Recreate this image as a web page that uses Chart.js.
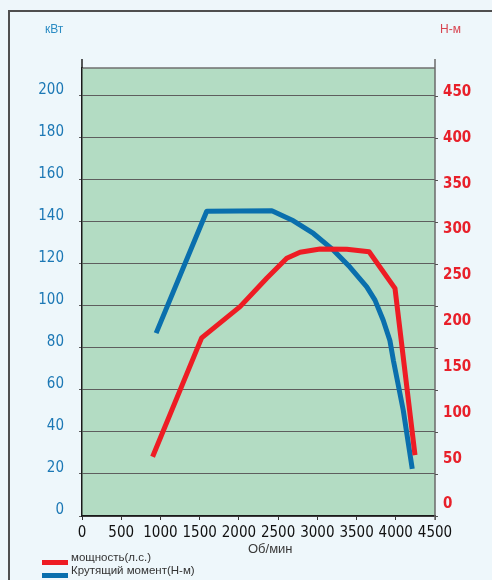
<!DOCTYPE html>
<html>
<head>
<meta charset="utf-8">
<script src="https://cdn.jsdelivr.net/npm/chart.js@4/dist/chart.umd.min.js"></script>
<style>
  html { overflow:hidden; }
  html, body { margin:0; padding:0; background:#eef6fa; }
  body { width:492px; height:580px; position:relative; overflow:hidden; font-family:'Liberation Sans', Arial, sans-serif; }
  #frame { position:absolute; left:8px; top:10px; width:900px; height:900px; border-left:2px solid #4f4f4f; border-top:2px solid #4f4f4f; background:#eef7fb; }
  #c { position:absolute; left:0; top:0; }
  .lbl { position:absolute; white-space:nowrap; }
  #kw { left:45px; top:22px; color:#2b8cc4; font-size:12px; }
  #nm { left:440px; top:22px; color:#d8434f; font-size:12px; }
  #xt { left:248px; top:541px; color:#3a3a3a; font-size:13px; }
  .leg { position:absolute; left:42px; width:26px; height:5px; }
  .legt { left:71px; color:#333; font-size:11.5px; }
</style>
</head>
<body>
<div id="frame"></div>
<canvas id="c" width="492" height="580"></canvas>
<div class="lbl" id="kw">кВт</div>
<div class="lbl" id="nm">Н-м</div>
<div class="lbl" id="xt">Об/мин</div>
<div class="leg" style="top:560px;background:#ee1c24"></div>
<div class="lbl legt" style="top:551px">мощность(л.с.)</div>
<div class="leg" style="top:573px;background:#0a6fad"></div>
<div class="lbl legt" style="top:564px">Крутящий момент(Н-м)</div>
<script>
// ---- data ----
const seriesNames = ['мощность(л.с.)', 'Крутящий момент(Н-м)'];
const powerRpm = [900, 1525, 2015, 2355, 2610, 2780, 3035, 3375, 3660, 3990, 4245];
const powerKw  = [28.2, 84.8, 99.7, 113.2, 122.7, 125.6, 127.1, 127.0, 125.8, 108.4, 29];
const torqueRpm = [945, 1590, 2420, 2695, 2950, 3205, 3415, 3630, 3735, 3840, 3925, 3970, 4095, 4210];
const torqueNm  = [187, 320, 320.5, 309.5, 295.7, 277.5, 259, 237.5, 223, 201, 179, 157, 103, 39];
const xTicks = [0, 500, 1000, 1500, 2000, 2500, 3000, 3500, 4000, 4500];
const leftTicks = [0, 20, 40, 60, 80, 100, 120, 140, 160, 180, 200];
const rightTicks = [0, 50, 100, 150, 200, 250, 300, 350, 400, 450];

const tickFont = { family: "'Liberation Sans Narrow', 'DejaVu Sans Condensed', sans-serif", size: 15 };
const plain = v => String(v);

const plotDeco = {
  id: 'plotDeco',
  beforeDraw(chart) {
    const { ctx, chartArea: a } = chart;
    ctx.save();
    ctx.fillStyle = '#b3dcc3';
    ctx.fillRect(a.left, a.top, a.right - a.left, a.bottom - a.top);
    ctx.restore();
  },
  afterDraw(chart) {
    const { ctx, chartArea: a } = chart;
    const yl = chart.scales.yL;
    ctx.save();
    ctx.strokeStyle = '#6f6f6f'; ctx.lineWidth = 1.5;
    ctx.beginPath(); ctx.moveTo(a.left, a.top); ctx.lineTo(a.right, a.top); ctx.stroke();
    ctx.strokeStyle = '#6a6a6a'; ctx.lineWidth = 1.5;
    ctx.beginPath(); ctx.moveTo(a.right, a.top - 9); ctx.lineTo(a.right, a.bottom + 4); ctx.stroke();
    ctx.strokeStyle = '#222'; ctx.lineWidth = 1.5;
    ctx.beginPath(); ctx.moveTo(a.left, a.top - 9); ctx.lineTo(a.left, a.top); ctx.stroke();
    ctx.strokeStyle = '#555'; ctx.lineWidth = 1;
    leftTicks.forEach(v => {
      const y = Math.round(yl.getPixelForValue(v)) + 0.5;
      ctx.beginPath(); ctx.moveTo(a.right, y); ctx.lineTo(a.right + 3, y); ctx.stroke();
    });
    ctx.restore();
  }
};

new Chart(document.getElementById('c'), {
  type: 'line',
  data: {
    datasets: [
      { label: seriesNames[0], data: powerRpm.map((x, i) => ({ x, y: powerKw[i] })), yAxisID: 'yL',
        borderColor: '#ee1c24', borderWidth: 5, pointRadius: 0, tension: 0, borderJoinStyle: 'round', fill: false },
      { label: seriesNames[1], data: torqueRpm.map((x, i) => ({ x, y: torqueNm[i] })), yAxisID: 'yR',
        borderColor: '#0a6fad', borderWidth: 5, pointRadius: 0, tension: 0, borderJoinStyle: 'round', fill: false }
    ]
  },
  options: {
    responsive: false,
    animation: false,
    layout: { padding: { top: 68, left: 0, right: 0, bottom: 0 } },
    plugins: { legend: { display: false }, tooltip: { enabled: false } },
    scales: {
      x: {
        type: 'linear', min: 0, max: 4500,
        afterBuildTicks: s => { s.ticks = xTicks.map(v => ({ value: v })); },
        afterFit: s => { s.height = 64; },
        grid: { display: true, drawOnChartArea: false, drawTicks: true, tickLength: 4, color: '#333' },
        border: { color: '#1a1a1a', width: 1.5 },
        ticks: { color: '#111', font: tickFont, padding: 4, maxRotation: 0, autoSkip: false, callback: plain }
      },
      yL: {
        type: 'linear', position: 'left', min: 0, max: 213.33,
        afterBuildTicks: s => { s.ticks = leftTicks.map(v => ({ value: v })); },
        afterFit: s => { s.width = 82; },
        grid: { color: '#5e5e5e', lineWidth: 1, drawTicks: true, tickLength: 3 },
        border: { color: '#1a1a1a', width: 1.5 },
        ticks: { color: '#1c78b5', font: tickFont, padding: 15, labelOffset: -6, callback: plain }
      },
      yR: {
        type: 'linear', position: 'right', min: -12.5, max: 476.2,
        afterBuildTicks: s => { s.ticks = rightTicks.map(v => ({ value: v })); },
        afterFit: s => { s.width = 57; },
        grid: { display: false, drawOnChartArea: false, drawTicks: false },
        border: { display: false },
        ticks: { color: '#e8202a', font: Object.assign({}, tickFont, { weight: 'bold' }), padding: 8, callback: plain }
      }
    }
  },
  plugins: [plotDeco]
});
</script>
</body>
</html>
